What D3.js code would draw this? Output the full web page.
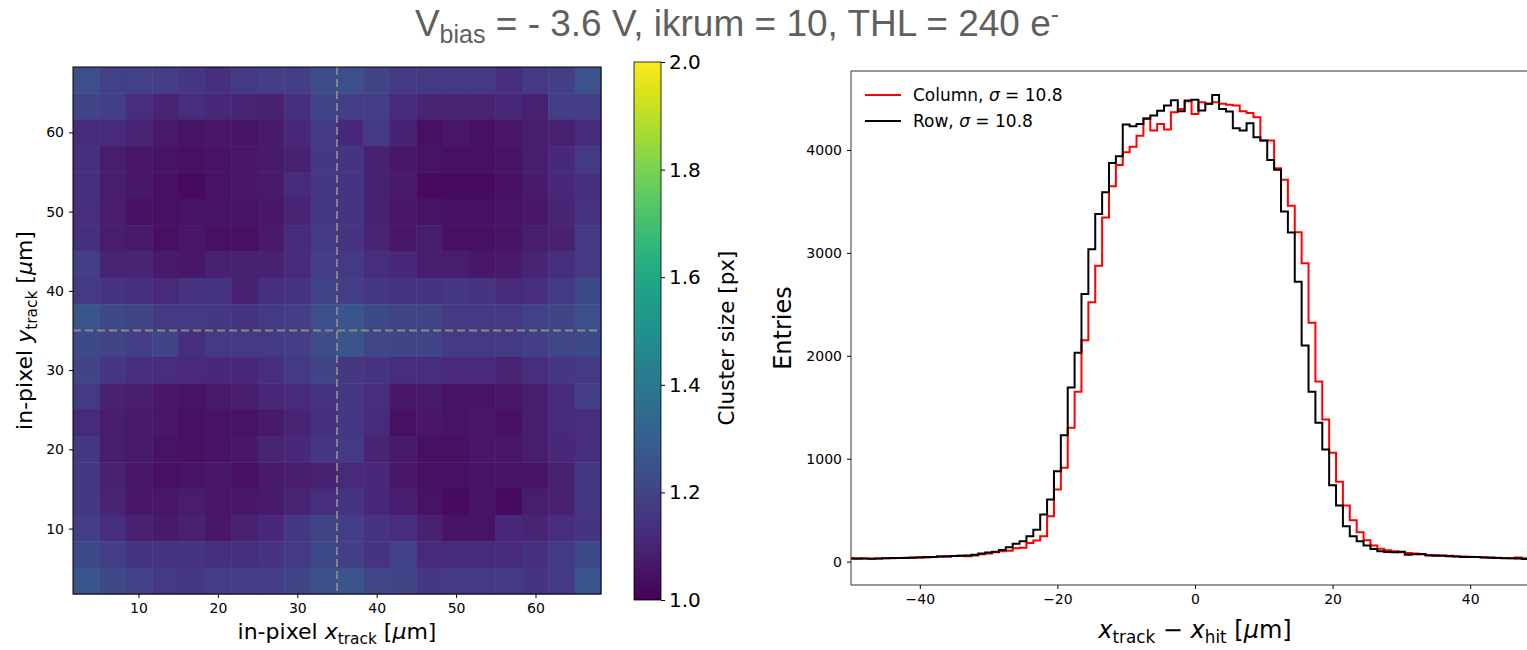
<!DOCTYPE html>
<html>
<head>
<meta charset="utf-8">
<script src="https://cdn.jsdelivr.net/npm/d3@7/dist/d3.min.js"></script>
<style>
  body { margin: 0; background: #fff; }
  svg { display: block; }
  text { font-family: "DejaVu Sans", sans-serif; fill: #000; }
</style>
</head>
<body>
<svg id="chart" width="1527" height="650"></svg>
<script>
// ---- data ----
var titleText = " = - 3.6 V, ikrum = 10, THL = 240 e";

// in-pixel cluster size map, 20 x 20 cells, listed from the top row (high y) down
var clusterRows = [
  [1.24,1.19,1.19,1.18,1.16,1.14,1.17,1.18,1.18,1.23, 1.24,1.20,1.17,1.17,1.17,1.17,1.13,1.17,1.18,1.25],
  [1.20,1.18,1.13,1.10,1.13,1.11,1.10,1.09,1.14,1.20, 1.18,1.18,1.12,1.10,1.10,1.10,1.11,1.09,1.18,1.18],
  [1.12,1.12,1.10,1.07,1.05,1.06,1.05,1.07,1.11,1.17, 1.11,1.17,1.09,1.04,1.06,1.04,1.06,1.08,1.09,1.12],
  [1.14,1.08,1.06,1.05,1.04,1.05,1.06,1.07,1.09,1.16, 1.15,1.09,1.06,1.05,1.04,1.04,1.05,1.08,1.11,1.17],
  [1.14,1.08,1.06,1.04,1.03,1.05,1.06,1.07,1.12,1.16, 1.15,1.09,1.07,1.03,1.03,1.03,1.04,1.07,1.11,1.14],
  [1.13,1.08,1.04,1.04,1.05,1.05,1.05,1.06,1.10,1.16, 1.15,1.09,1.06,1.05,1.04,1.04,1.05,1.06,1.10,1.15],
  [1.14,1.08,1.07,1.04,1.06,1.04,1.04,1.07,1.12,1.17, 1.15,1.10,1.06,1.08,1.04,1.04,1.05,1.08,1.09,1.17],
  [1.18,1.10,1.10,1.07,1.06,1.09,1.09,1.09,1.12,1.18, 1.17,1.13,1.11,1.08,1.08,1.06,1.07,1.10,1.13,1.17],
  [1.17,1.15,1.14,1.12,1.15,1.15,1.09,1.14,1.15,1.20, 1.18,1.16,1.15,1.15,1.16,1.15,1.12,1.13,1.17,1.22],
  [1.26,1.22,1.20,1.17,1.17,1.16,1.15,1.17,1.18,1.24, 1.26,1.22,1.20,1.20,1.17,1.17,1.17,1.19,1.20,1.24],
  [1.22,1.20,1.18,1.20,1.13,1.17,1.17,1.17,1.18,1.23, 1.26,1.21,1.20,1.20,1.17,1.17,1.17,1.18,1.21,1.22],
  [1.20,1.16,1.13,1.13,1.12,1.11,1.11,1.13,1.17,1.20, 1.16,1.15,1.13,1.13,1.12,1.12,1.10,1.13,1.16,1.17],
  [1.17,1.09,1.08,1.06,1.05,1.07,1.08,1.11,1.12,1.15, 1.16,1.13,1.06,1.07,1.05,1.05,1.06,1.08,1.12,1.18],
  [1.12,1.08,1.07,1.06,1.04,1.05,1.05,1.07,1.10,1.14, 1.16,1.12,1.04,1.06,1.05,1.06,1.04,1.08,1.12,1.13],
  [1.16,1.08,1.07,1.05,1.04,1.05,1.06,1.10,1.11,1.16, 1.17,1.10,1.07,1.04,1.04,1.06,1.06,1.08,1.11,1.13],
  [1.16,1.09,1.06,1.04,1.05,1.06,1.04,1.07,1.08,1.09, 1.12,1.11,1.06,1.04,1.04,1.05,1.05,1.05,1.09,1.16],
  [1.16,1.10,1.06,1.06,1.08,1.06,1.06,1.07,1.10,1.13, 1.15,1.11,1.08,1.05,1.03,1.05,1.03,1.08,1.09,1.16],
  [1.18,1.13,1.09,1.07,1.09,1.06,1.09,1.11,1.16,1.20, 1.18,1.15,1.13,1.09,1.05,1.05,1.11,1.10,1.13,1.15],
  [1.22,1.18,1.15,1.15,1.15,1.14,1.14,1.15,1.17,1.22, 1.18,1.15,1.19,1.12,1.12,1.12,1.12,1.14,1.17,1.22],
  [1.26,1.22,1.19,1.17,1.16,1.18,1.18,1.18,1.20,1.24, 1.26,1.21,1.20,1.16,1.17,1.17,1.17,1.15,1.17,1.26]
];
var pixelRange = [1.75, 68.25];
var pixelTicks = [10, 20, 30, 40, 50, 60];
var pixelCentre = 35;
var colorTicks = [1.0, 1.2, 1.4, 1.6, 1.8, 2.0];

// residual histograms, one entry per 1 um bin centred on -50 ... 50
var binCentres = d3.range(-50, 51);
var rowCounts = [
  28,28,30,29,30,33,35,36,36,37,
  40,44,46,50,52,54,58,60,68,78,
  88,96,112,140,175,198,246,311,457,603,
  879,1229,1693,2030,2600,3036,3377,3588,3873,3938,
  4246,4230,4253,4302,4334,4380,4431,4483,4376,4480,
  4487,4383,4448,4535,4399,4373,4211,4188,4260,4124,
  4091,3903,3808,3403,3199,2720,2100,1650,1350,1090,
  743,545,344,246,198,156,123,101,94,92,
  95,68,72,75,60,58,56,52,50,46,
  45,44,40,38,35,33,32,30,26,28,
  27
];
var columnCounts = [
  35,33,30,28,30,32,34,36,38,40,
  42,40,46,50,48,55,56,52,60,72,
  80,92,100,105,130,135,180,205,246,441,
  700,912,1301,1650,2150,2520,2874,3344,3647,3854,
  3977,4032,4139,4308,4188,4253,4198,4367,4399,4474,
  4350,4464,4448,4464,4448,4440,4431,4376,4360,4318,
  4091,4091,3822,3711,3458,3200,2900,2320,1750,1380,
  1058,776,545,402,285,207,156,126,110,100,
  92,85,80,72,65,62,60,56,52,50,
  48,45,42,40,38,35,33,40,32,30,
  28
];
var residualTicks = [-40, -20, 0, 20, 40];
var entryTicks = [0, 1000, 2000, 3000, 4000];
var seriesNames = ["Column, ", "Row, "];
var seriesSigma = ["10.8", "10.8"];
var seriesColors = ["#ff0000", "#000000"];

// ---- drawing ----
var svg = d3.select("#chart");

// title
var title = svg.append("text")
    .attr("x", 737).attr("y", 36)
    .attr("text-anchor", "middle")
    .style("font-family", "'Liberation Sans', Arial, sans-serif")
    .style("font-size", "37px")
    .style("fill", "#5f5f5f");
title.append("tspan").text("V");
title.append("tspan").attr("dy", 7).style("font-size", "25px").text("bias");
title.append("tspan").attr("dy", -7).text(titleText);
title.append("tspan").attr("dy", -13).style("font-size", "25px").text("-");

// heat map
var hm = { left: 73, right: 601, top: 67, bottom: 594 };
var hx = d3.scaleLinear().domain(pixelRange).range([hm.left, hm.right]);
var hy = d3.scaleLinear().domain(pixelRange).range([hm.bottom, hm.top]);
var color = d3.scaleSequential(d3.interpolateViridis).domain([1, 2]);

var nCells = clusterRows.length;
var cellStep = (pixelRange[1] - pixelRange[0]) / nCells;
var cells = [];
clusterRows.forEach(function(row, i) {
    var r = nCells - 1 - i;
    row.forEach(function(v, c) {
        cells.push({ x0: pixelRange[0] + c * cellStep, y0: pixelRange[0] + r * cellStep, v: v });
    });
});

svg.append("g").selectAll("rect")
    .data(cells)
    .enter().append("rect")
    .attr("x", function(d) { return hx(d.x0); })
    .attr("y", function(d) { return hy(d.y0 + cellStep); })
    .attr("width", function(d) { return hx(d.x0 + cellStep) - hx(d.x0) + 0.5; })
    .attr("height", function(d) { return hy(d.y0) - hy(d.y0 + cellStep) + 0.5; })
    .attr("fill", function(d) { return color(d.v); });

// dashed centre lines
svg.append("line")
    .attr("x1", hx(pixelCentre)).attr("x2", hx(pixelCentre))
    .attr("y1", hm.top).attr("y2", hm.bottom)
    .attr("stroke", "#8a8a8a").attr("stroke-width", 1.8).attr("stroke-dasharray", "8,4");
svg.append("line")
    .attr("x1", hm.left).attr("x2", hm.right)
    .attr("y1", hy(pixelCentre)).attr("y2", hy(pixelCentre))
    .attr("stroke", "#8a8a8a").attr("stroke-width", 1.8).attr("stroke-dasharray", "8,4");

svg.append("rect")
    .attr("x", hm.left).attr("y", hm.top)
    .attr("width", hm.right - hm.left).attr("height", hm.bottom - hm.top)
    .attr("fill", "none").attr("stroke", "#000").attr("stroke-width", 1);

function styleAxis(g, size) {
    g.select(".domain").remove();
    g.selectAll(".tick line").attr("stroke", "#000");
    g.selectAll(".tick text").style("font-family", "'DejaVu Sans', sans-serif").style("font-size", size + "px");
}

svg.append("g")
    .attr("transform", "translate(0," + hm.bottom + ")")
    .call(d3.axisBottom(hx).tickValues(pixelTicks).tickSize(4).tickPadding(5))
    .call(styleAxis, 14);
svg.append("g")
    .attr("transform", "translate(" + hm.left + ",0)")
    .call(d3.axisLeft(hy).tickValues(pixelTicks).tickSize(4).tickPadding(5))
    .call(styleAxis, 14);

// axis label helper: mathtext-like label with italic symbols and subscripts
function mathLabel(t, parts, size) {
    parts.forEach(function(p) {
        var s = t.append("tspan").text(p.t);
        if (p.i) s.style("font-style", "italic");
        if (p.sub) s.attr("dy", size * 0.22).style("font-size", (size * 0.7) + "px");
        if (p.back) s.attr("dy", -size * 0.22);
    });
}

var hxLabel = svg.append("text")
    .attr("x", (hm.left + hm.right) / 2).attr("y", 639)
    .attr("text-anchor", "middle").style("font-size", "22px");
mathLabel(hxLabel, [
    { t: "in-pixel " }, { t: "x", i: true }, { t: "track", sub: true },
    { t: " [", back: true }, { t: "\u03bc", i: true }, { t: "m]" }
], 22);

var hyLabel = svg.append("text")
    .attr("transform", "translate(32," + ((hm.top + hm.bottom) / 2) + ") rotate(-90)")
    .attr("text-anchor", "middle").style("font-size", "22px");
mathLabel(hyLabel, [
    { t: "in-pixel " }, { t: "y", i: true }, { t: "track", sub: true },
    { t: " [", back: true }, { t: "\u03bc", i: true }, { t: "m]" }
], 22);

// colour bar
var cb = { left: 634, width: 27, top: 62, bottom: 600 };
var cScale = d3.scaleLinear().domain([1, 2]).range([cb.bottom, cb.top]);
var defs = svg.append("defs");
var grad = defs.append("linearGradient")
    .attr("id", "viridis").attr("x1", 0).attr("y1", 1).attr("x2", 0).attr("y2", 0);
d3.range(0, 1.0001, 0.05).forEach(function(t) {
    grad.append("stop").attr("offset", t).attr("stop-color", d3.interpolateViridis(t));
});
svg.append("rect")
    .attr("x", cb.left).attr("y", cb.top)
    .attr("width", cb.width).attr("height", cb.bottom - cb.top)
    .attr("fill", "url(#viridis)")
    .attr("stroke", "#000").attr("stroke-width", 0.8);
svg.append("g")
    .attr("transform", "translate(" + (cb.left + cb.width) + ",0)")
    .call(d3.axisRight(cScale).tickValues(colorTicks).tickFormat(d3.format(".1f")).tickSize(4).tickPadding(4))
    .call(styleAxis, 20);
svg.append("text")
    .attr("transform", "translate(734,338) rotate(-90)")
    .attr("text-anchor", "middle").style("font-size", "21.5px")
    .text("Cluster size [px]");

// histogram
var hs = { left: 851, right: 1539, top: 71, bottom: 585 };
var rx = d3.scaleLinear().domain([-50, 50]).range([hs.left, hs.right]);
var ry = d3.scaleLinear().domain([-227, 4767]).range([hs.bottom, hs.top]);

defs.append("clipPath").attr("id", "histClip")
    .append("rect").attr("x", hs.left).attr("y", hs.top)
    .attr("width", hs.right - hs.left).attr("height", hs.bottom - hs.top);

function stepPoints(counts) {
    var pts = [[binCentres[0] - 0.5, 0]];
    counts.forEach(function(v, i) {
        pts.push([binCentres[i] - 0.5, v]);
        pts.push([binCentres[i] + 0.5, v]);
    });
    pts.push([binCentres[binCentres.length - 1] + 0.5, 0]);
    return pts;
}
var stepLine = d3.line()
    .x(function(d) { return rx(d[0]); })
    .y(function(d) { return ry(d[1]); });

var plot = svg.append("g").attr("clip-path", "url(#histClip)");
[columnCounts, rowCounts].forEach(function(counts, i) {
    plot.append("path")
        .datum(stepPoints(counts))
        .attr("fill", "none")
        .attr("stroke", seriesColors[i])
        .attr("stroke-width", 2)
        .attr("stroke-linejoin", "miter")
        .attr("d", stepLine);
});

// frame (right edge runs off the page)
svg.append("path")
    .attr("d", "M" + hs.right + "," + hs.top + "H" + hs.left + "V" + hs.bottom + "H" + hs.right)
    .attr("fill", "none").attr("stroke", "#333").attr("stroke-width", 1);

svg.append("g")
    .attr("transform", "translate(0," + hs.bottom + ")")
    .call(d3.axisBottom(rx).tickValues(residualTicks).tickFormat(d3.format("d")).tickSize(4).tickPadding(5))
    .call(styleAxis, 14);
svg.append("g")
    .attr("transform", "translate(" + hs.left + ",0)")
    .call(d3.axisLeft(ry).tickValues(entryTicks).tickFormat(d3.format("d")).tickSize(4).tickPadding(5))
    .call(styleAxis, 14);

// replace ASCII minus with a real minus sign as matplotlib does
svg.selectAll(".tick text").text(function() { return d3.select(this).text().replace("-", "\u2212"); });

svg.append("text")
    .attr("transform", "translate(791," + ((hs.top + hs.bottom) / 2) + ") rotate(-90)")
    .attr("text-anchor", "middle").style("font-size", "24px")
    .text("Entries");

var rxLabel = svg.append("text")
    .attr("x", 1195).attr("y", 638)
    .attr("text-anchor", "middle").style("font-size", "24px");
mathLabel(rxLabel, [
    { t: "x", i: true }, { t: "track", sub: true },
    { t: " \u2212 ", back: true }, { t: "x", i: true }, { t: "hit", sub: true },
    { t: " [", back: true }, { t: "\u03bc", i: true }, { t: "m]" }
], 24);

// legend
var legend = svg.append("g").attr("transform", "translate(865,95)");
seriesNames.forEach(function(name, i) {
    var row = legend.append("g").attr("transform", "translate(0," + (i * 26) + ")");
    row.append("line").attr("x1", 0).attr("x2", 36).attr("y1", 0).attr("y2", 0)
        .attr("stroke", seriesColors[i]).attr("stroke-width", 2);
    var t = row.append("text").attr("x", 48).attr("y", 6).style("font-size", "17px");
    t.append("tspan").text(name);
    t.append("tspan").style("font-style", "italic").text("\u03c3");
    t.append("tspan").text(" = " + seriesSigma[i]);
});
</script>
</body>
</html>
